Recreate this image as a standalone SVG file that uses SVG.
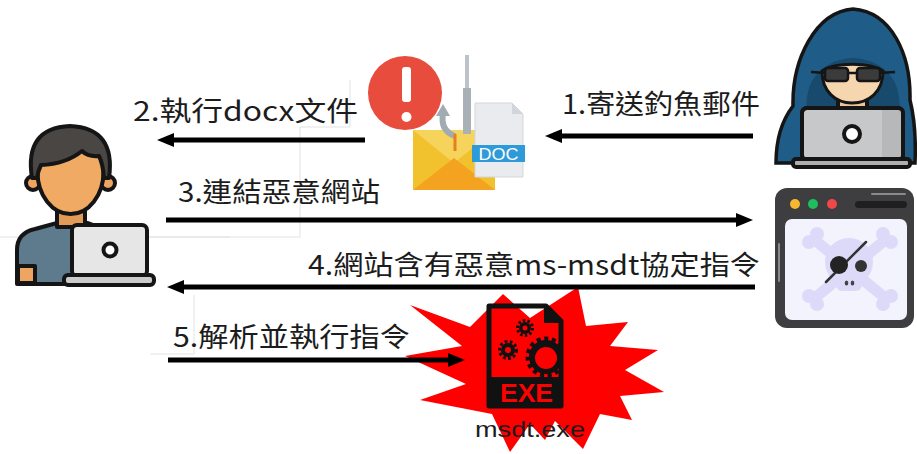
<svg xmlns="http://www.w3.org/2000/svg" width="917" height="454" viewBox="0 0 917 454">
  <style>
    .lbl { font-family: "Noto Sans CJK TC", "Noto Sans CJK SC", sans-serif; font-size: 27px; fill: #1c1c1c; }
    .ol { stroke: #151515; stroke-width: 4; stroke-linejoin: round; }
    .arrow { stroke: #000; stroke-width: 5; fill: none; }
    .guide { stroke: #e2e2e2; stroke-width: 1; fill: none; }
  </style>
  <defs>
    <marker id="head" markerUnits="userSpaceOnUse" markerWidth="18" markerHeight="16" refX="0" refY="8" orient="auto">
      <path d="M0,1 L17,8 L0,15 Z" fill="#000"/>
    </marker>
    <clipPath id="docInside">
      <path d="M489,306 L546,306 L561,321 L561,406 L489,406 Z"/>
    </clipPath>
  </defs>

  <rect width="917" height="454" fill="#ffffff"/>

  <!-- faint text-box borders -->
  <g id="box-borders">
    <path class="guide" d="M0,237 H300 V127 H350 V80"/>
    <path class="guide" d="M130,237 H230"/>
    <path class="guide" d="M150,354 H194 V295"/>
  </g>

  <!-- user at the laptop -->
  <g id="user">
    <path class="ol" fill="#5E7B8D" d="M17,284 L17,250 Q17,233 35,229 L57,223 L88,223 L104,229 L104,284 Z"/>
    <rect class="ol" x="18" y="266" width="17" height="17" fill="#EFA562"/>
    <rect class="ol" x="57" y="203" width="28" height="24" fill="#E29A57"/>
    <circle class="ol" cx="33" cy="183" r="7" fill="#EFA562"/>
    <circle class="ol" cx="108" cy="183" r="7" fill="#EFA562"/>
    <ellipse class="ol" cx="70.5" cy="172" rx="33" ry="42" fill="#F0AA63"/>
    <path class="ol" fill="#4A4643" d="M32,178 Q24,128 70,126 Q116,128 109,178 L104,178 Q103,164 99,156 Q88,157 82,151 Q66,164 41,165 Q38,171 37,178 Z"/>
    <rect class="ol" x="72" y="225" width="75" height="51" rx="5" fill="#E6E6E6"/>
    <rect class="ol" x="64" y="275" width="90" height="10" rx="4" fill="#CBCBCB"/>
    <circle class="ol" cx="110" cy="250" r="6.5" fill="#ffffff"/>
  </g>

  <!-- hooded attacker -->
  <g id="attacker">
    <path stroke="#151515" stroke-width="3.5" fill="#1F5C87" d="M776,163 C776,136 783,119 793,106 C792,60 815,12 853,9 C892,12 911,55 910,100 C914,116 916,140 915,163 Z"/>
    <path fill="#184A6E" d="M807,114 C803,80 822,60 853,58 C884,60 903,80 899,114 Z"/>
    <rect class="ol" x="838" y="98" width="29" height="12" fill="#EFC496" stroke-width="3"/>
    <path stroke="#151515" stroke-width="3" fill="#F6D6AE" d="M822,71 C822,92 836,103 852,103 C869,103 883,92 883,71 C870,62 835,62 822,71 Z"/>
    <g stroke="#151515" stroke-width="2.5" fill="#3B3B3B">
      <line x1="811" y1="72" x2="826" y2="73"/>
      <line x1="879" y1="73" x2="895" y2="72"/>
      <line x1="847" y1="73" x2="858" y2="73"/>
      <rect x="825" y="68" width="23" height="13" rx="3"/>
      <rect x="857" y="68" width="23" height="13" rx="3"/>
    </g>
    <rect class="ol" x="802" y="108" width="101" height="52" rx="5" fill="#C7C8CA"/>
    <rect x="882" y="110" width="19" height="48" fill="#B7B8BA"/>
    <rect class="ol" x="802" y="108" width="101" height="52" rx="5" fill="none"/>
    <rect class="ol" x="793" y="159" width="117" height="8" rx="3" fill="#AFAFB1" stroke-width="3"/>
    <circle class="ol" cx="852" cy="134" r="8" fill="#ffffff"/>
  </g>

  <!-- phishing mail with attached DOC -->
  <g id="phishing-mail">
    <rect x="413" y="130" width="82" height="60" fill="#F2C12E"/>
    <path d="M413,130 L495,130 L454,163 Z" fill="#F6D35B"/>
    <path d="M413,190 L454,158 L495,190 Z" fill="#F4A320"/>
    <line x1="467" y1="55" x2="467" y2="90" stroke="#BCC2C7" stroke-width="4"/>
    <line x1="467" y1="88" x2="467" y2="134" stroke="#A9B0B6" stroke-width="8"/>
    <path d="M443,113 Q440,131 455,136" stroke="#A3ABB2" stroke-width="6" fill="none"/>
    <path d="M436,116 L443,104 L450,116 Z" fill="#A3ABB2"/>
    <line x1="455" y1="134" x2="455" y2="151" stroke="#E67E22" stroke-width="3"/>
    <path d="M475,103 L512,103 L523,114 L523,177 L475,177 Z" fill="#E9EBEE" stroke="#D3D7DB" stroke-width="1"/>
    <path d="M512,103 L512,114 L523,114 Z" fill="#D2D6DA"/>
    <rect x="472" y="145" width="53" height="17" fill="#2E9AD8"/>
    <text x="498.5" y="160" text-anchor="middle" font-family="Liberation Sans, sans-serif" font-size="16" fill="#ffffff" textLength="40" lengthAdjust="spacingAndGlyphs">DOC</text>
    <circle cx="405" cy="93" r="37" fill="#E74C3C"/>
    <rect x="402" y="67" width="9" height="35" rx="3" fill="#ffffff"/>
    <circle cx="406.5" cy="117" r="5" fill="#ffffff"/>
  </g>

  <!-- malicious web page -->
  <g id="malicious-site">
    <rect x="775" y="188" width="139" height="140" rx="12" fill="#3E3E40"/>
    <circle cx="795" cy="204" r="5" fill="#F5B82E"/>
    <circle cx="813" cy="204" r="5" fill="#1DBF5F"/>
    <circle cx="832" cy="204" r="5" fill="#F04848"/>
    <rect x="855" y="201" width="52" height="7" rx="3.5" fill="#1F1F21"/>
    <line x1="872" y1="194" x2="905" y2="194" stroke="#8A8A8C" stroke-width="2" stroke-linecap="round"/>
    <rect x="785" y="219" width="122" height="101" rx="7" fill="#F3F3FE"/>
    <line x1="779" y1="244" x2="779" y2="281" stroke="#8A8A8C" stroke-width="2" stroke-linecap="round"/>
    <g fill="#DCDAF8">
      <line x1="816" y1="241" x2="884" y2="297" stroke="#DCDAF8" stroke-width="11"/>
      <line x1="884" y1="241" x2="816" y2="297" stroke="#DCDAF8" stroke-width="11"/>
      <circle cx="809" cy="242" r="7"/><circle cx="817" cy="234" r="7"/>
      <circle cx="891" cy="242" r="7"/><circle cx="883" cy="234" r="7"/>
      <circle cx="809" cy="296" r="7"/><circle cx="817" cy="304" r="7"/>
      <circle cx="891" cy="296" r="7"/><circle cx="883" cy="304" r="7"/>
      <circle cx="849" cy="262" r="24"/>
      <rect x="836" y="272" width="26" height="19" rx="6"/>
    </g>
    <line x1="826" y1="282" x2="866" y2="242" stroke="#333" stroke-width="2.5" stroke-linecap="round"/>
    <circle cx="839" cy="265" r="9" fill="#232323"/>
    <circle cx="861" cy="266" r="6" fill="#333"/>
    <ellipse cx="846.5" cy="283" rx="1.8" ry="2.5" fill="#444"/>
    <ellipse cx="852.5" cy="283" rx="1.8" ry="2.5" fill="#444"/>
  </g>

  <!-- msdt.exe inside the red burst -->
  <g id="msdt-exe">
    <path fill="#FF0000" d="M410,305 L470,327 L503,294 L530,318 L578,287 L586,326 L628,322 L610,346 L658,350 L625,370 L664,392 L620,396 L632,420 L600,414 L583,449 L555,421 L545,440 L530,424 L510,452 L492,414 L420,400 L466,384 L405,356 L462,346 Z"/>
    <g clip-path="url(#docInside)">
      <circle cx="546" cy="357" r="18" fill="none" stroke="#111" stroke-width="5" stroke-dasharray="4 3.5"/>
      <circle cx="546" cy="357" r="17" fill="#111"/>
      <circle cx="546" cy="358" r="11" fill="#FF0000"/>
    </g>
    <circle cx="525" cy="328" r="7.5" fill="none" stroke="#111" stroke-width="3" stroke-dasharray="2.5 2.2"/>
    <circle cx="525" cy="328" r="6" fill="#111"/>
    <circle cx="525" cy="328" r="2.5" fill="#FF0000"/>
    <circle cx="508" cy="350" r="8.5" fill="none" stroke="#111" stroke-width="3" stroke-dasharray="2.8 2.4"/>
    <circle cx="508" cy="350" r="7" fill="#111"/>
    <circle cx="508" cy="350" r="3" fill="#FF0000"/>
    <path d="M489,306 L546,306 L561,321 L561,406 L489,406 Z" fill="none" stroke="#111" stroke-width="5" stroke-linejoin="round"/>
    <path d="M544,305 L562,323 L544,323 Z" fill="#111"/>
    <rect x="487" y="377" width="76" height="31" fill="#111"/>
    <text x="500" y="402" font-family="Liberation Sans, sans-serif" font-weight="bold" font-size="26" fill="#FF0000" textLength="53" lengthAdjust="spacingAndGlyphs">EXE</text>
    <text x="475" y="437" font-family="Liberation Sans, sans-serif" font-size="22" fill="#1c1c1c" textLength="110" lengthAdjust="spacingAndGlyphs">msdt.exe</text>
  </g>

  <!-- message arrows -->
  <g id="connectors">
    <line class="arrow" x1="753" y1="136" x2="562" y2="136" marker-end="url(#head)"/>
    <line class="arrow" x1="365" y1="140" x2="174" y2="140" marker-end="url(#head)"/>
    <line class="arrow" x1="166" y1="220" x2="736" y2="220" marker-end="url(#head)"/>
    <line class="arrow" x1="755" y1="287" x2="184" y2="287" marker-end="url(#head)"/>
    <line class="arrow" x1="168" y1="360" x2="448" y2="360" marker-end="url(#head)"/>
  </g>

  <!-- step labels -->
  <g id="labels">
    <text class="lbl" x="562" y="114" textLength="198" lengthAdjust="spacingAndGlyphs">1.寄送釣魚郵件</text>
    <text class="lbl" x="133" y="121" textLength="225" lengthAdjust="spacingAndGlyphs">2.執行docx文件</text>
    <text class="lbl" x="178" y="202" textLength="202" lengthAdjust="spacingAndGlyphs">3.連結惡意網站</text>
    <text class="lbl" x="308" y="275" textLength="452" lengthAdjust="spacingAndGlyphs">4.網站含有惡意ms-msdt協定指令</text>
    <text class="lbl" x="173" y="347" textLength="237" lengthAdjust="spacingAndGlyphs">5.解析並執行指令</text>
  </g>
</svg>
